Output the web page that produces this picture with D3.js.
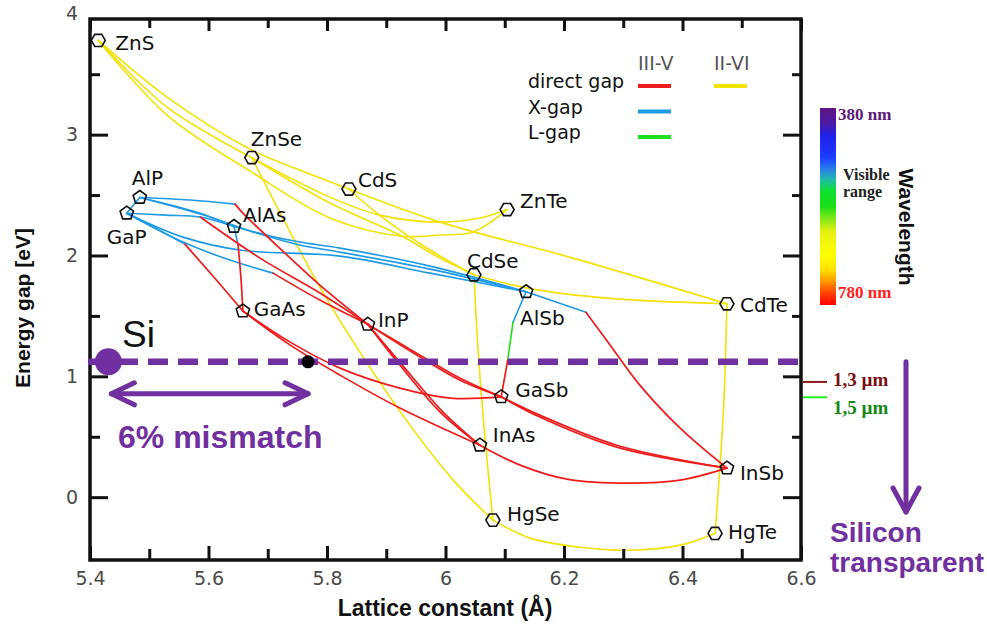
<!DOCTYPE html>
<html>
<head>
<meta charset="utf-8">
<script src="https://cdn.jsdelivr.net/npm/d3@7"></script>
<style>
  html, body { margin: 0; padding: 0; background: #fff; }
  svg { display: block; }
</style>
</head>
<body>
<svg id="chart" width="987" height="625"></svg>
<script>
// ---- Binary compounds: lattice constant (Å) and band gap (eV) ----
const compounds    = ["ZnS","ZnSe","CdS","ZnTe","CdSe","CdTe","HgSe","HgTe",
                      "AlP","GaP","AlAs","GaAs","InP","AlSb","GaSb","InAs","InSb"];
const latticeConst = [5.414,5.673,5.837,6.104,6.048,6.475,6.080,6.455,
                      5.484,5.462,5.643,5.658,5.869,6.136,6.094,6.058,6.475];
const bandGap      = [3.78,2.81,2.55,2.38,1.84,1.60,-0.19,-0.30,
                      2.48,2.35,2.24,1.54,1.43,1.70,0.83,0.43,0.24];
const family       = ["II-VI","II-VI","II-VI","II-VI","II-VI","II-VI","II-VI","II-VI",
                      "III-V","III-V","III-V","III-V","III-V","III-V","III-V","III-V","III-V"];

// ---- Ternary alloy curves: [lattice constant, gap] along each composition path ----
const alloySegments = [
  // II-VI alloys
  {gap:"II-VI",  pts:[[5.414,3.78],[5.530,3.311],[5.673,2.873],[5.754,2.707],[5.837,2.55]]},
  {gap:"II-VI",  pts:[[5.414,3.78],[5.530,3.228],[5.673,2.81]]},
  {gap:"II-VI",  pts:[[5.414,3.78],[5.530,3.162],[5.673,2.69],[5.805,2.31],[5.923,2.161],[5.991,2.169],[6.046,2.194],[6.104,2.38]]},
  {gap:"II-VI",  pts:[[5.673,2.81],[5.805,2.483],[5.889,2.334],[5.991,2.276],[6.058,2.31],[6.104,2.38]]},
  {gap:"II-VI",  pts:[[5.673,2.81],[5.805,2.434],[5.923,2.169],[5.991,1.978],[6.048,1.84]]},
  {gap:"II-VI",  pts:[[5.837,2.55],[5.884,2.351],[5.974,2.045],[6.048,1.84]]},
  {gap:"II-VI",  pts:[[5.837,2.55],[5.991,2.276],[6.215,1.978],[6.475,1.60]]},
  {gap:"II-VI",  pts:[[6.048,1.84],[6.138,1.73],[6.273,1.647],[6.475,1.60]]},
  {gap:"II-VI",  pts:[[5.673,2.81],[5.721,2.351],[5.788,1.738],[5.861,1.159],[5.940,0.596],[6.013,0.141],[6.080,-0.19]]},
  {gap:"II-VI",  pts:[[6.080,-0.19],[6.143,-0.339],[6.227,-0.414],[6.311,-0.439],[6.396,-0.397],[6.455,-0.30]]},
  {gap:"II-VI",  pts:[[6.048,1.84],[6.055,1.217],[6.067,0.472],[6.080,-0.19]]},
  {gap:"II-VI",  pts:[[6.475,1.60],[6.470,0.803],[6.463,0.24],[6.455,-0.30]]},
  // III-V alloys (X-gap, L-gap and direct-gap branches)
  {gap:"X",      pts:[[5.484,2.48],[5.462,2.35]]},
  {gap:"X",      pts:[[5.484,2.48],[5.586,2.35],[5.643,2.24]]},
  {gap:"X",      pts:[[5.484,2.48],[5.569,2.459],[5.645,2.425]]},
  {gap:"direct", pts:[[5.645,2.425],[5.658,2.351],[5.729,2.02],[5.788,1.755],[5.869,1.43]]},
  {gap:"X",      pts:[[5.462,2.35],[5.527,2.334],[5.586,2.318],[5.643,2.24]]},
  {gap:"direct", pts:[[5.586,2.318],[5.687,1.978],[5.788,1.689],[5.869,1.43]]},
  {gap:"X",      pts:[[5.462,2.35],[5.510,2.227],[5.560,2.094]]},
  {gap:"direct", pts:[[5.560,2.094],[5.606,1.838],[5.658,1.54]]},
  {gap:"X",      pts:[[5.643,2.24],[5.650,2.086]]},
  {gap:"direct", pts:[[5.650,2.086],[5.655,1.796],[5.658,1.54]]},
  {gap:"X",      pts:[[5.462,2.35],[5.557,2.111],[5.636,1.962],[5.709,1.854]]},
  {gap:"direct", pts:[[5.709,1.854],[5.788,1.631],[5.869,1.43]]},
  {gap:"X",      pts:[[5.643,2.24],[5.704,2.161],[5.754,2.111],[5.822,2.061],[5.974,1.912],[6.136,1.70]]},
  {gap:"X",      pts:[[5.484,2.48],[5.586,2.343],[5.687,2.177],[5.754,2.086],[5.822,2.028],[5.974,1.887],[6.136,1.70]]},
  {gap:"X",      pts:[[5.462,2.35],[5.557,2.152],[5.653,2.045],[5.822,1.995],[5.974,1.854],[6.136,1.70]]},
  {gap:"X",      pts:[[6.136,1.70],[6.114,1.449]]},
  {gap:"L",      pts:[[6.114,1.449],[6.105,1.134]]},
  {gap:"direct", pts:[[6.105,1.134],[6.094,0.83]]},
  {gap:"X",      pts:[[6.136,1.70],[6.237,1.531]]},
  {gap:"direct", pts:[[6.237,1.531],[6.278,1.258],[6.328,0.927],[6.396,0.571],[6.475,0.24]]},
  {gap:"direct", pts:[[5.658,1.54],[5.738,1.283],[5.822,1.068],[5.923,0.902],[6.008,0.82],[6.094,0.83]]},
  {gap:"direct", pts:[[5.658,1.54],[5.738,1.258],[5.822,1.01],[5.923,0.737],[5.991,0.579],[6.058,0.43]]},
  {gap:"direct", pts:[[5.869,1.43],[5.923,1.093],[5.991,0.704],[6.058,0.43]]},
  {gap:"direct", pts:[[5.869,1.43],[5.927,1.093],[5.996,0.704],[6.058,0.43]]},
  {gap:"direct", pts:[[5.869,1.43],[5.957,1.159],[6.024,0.969],[6.094,0.83]]},
  {gap:"direct", pts:[[5.869,1.43],[5.957,1.175],[6.024,0.986],[6.094,0.83]]},
  {gap:"direct", pts:[[6.094,0.83],[6.159,0.679],[6.289,0.43],[6.475,0.24]]},
  {gap:"direct", pts:[[6.094,0.83],[6.159,0.663],[6.289,0.414],[6.475,0.24]]},
  {gap:"direct", pts:[[6.058,0.43],[6.126,0.265],[6.205,0.149],[6.311,0.116],[6.396,0.141],[6.475,0.24]]}
];

// ---- Axis ticks ----
const xMajorTicks = [5.4,5.6,5.8,6,6.2,6.4,6.6];
const xMinorTicks = [5.5,5.7,5.9,6.1,6.3,6.5];
const yMajorTicks = [0,1,2,3,4];
const yMinorTicks = [0.5,1.5,2.5,3.5];

// ---- Silicon reference ----
const siLattice = 5.431;
const siGap = 1.12;
const matchedLattice = 5.768;

// ---- Telecom wavelengths (µm) ----
const telecomWavelengths = [1.3, 1.5];
const telecomLabels = ["1,3 µm", "1,5 µm"];

// ---- Visible spectrum colour bar (top = 380 nm, bottom = 780 nm) ----
const spectrumOffsets = [0,0.08,0.14,0.25,0.31,0.36,0.42,0.50,0.56,0.63,0.75,0.82,0.88,0.94,1];
const spectrumColors  = ["#5e1483","#4a1aa6","#2020e8","#1a3cff","#2a7ee8","#20b8b0","#10e030",
                         "#18e018","#80e818","#e8f010","#ffff00","#ffe000","#ff9a00","#ff4000","#ff0000"];

// ---- Legend ----
const legendRows    = ["direct gap","X-gap","L-gap"];
const legendGroups  = ["III-V","II-VI"];

// ================= drawing =================
const svg = d3.select("#chart");
svg.append("rect").attr("width",987).attr("height",625).attr("fill","#fff");

const x = d3.scaleLinear().domain([5.4, 6.6]).range([90, 801]);
const y = d3.scaleLinear().domain([-0.52, 3.957]).range([560, 19]);

const gapColor = {"II-VI":"#f2e205", "direct":"#ee1c1c", "X":"#1e9ae6", "L":"#1ee01e"};
const PURPLE = "#7030a0";
const LABEL_FONT = "'DejaVu Sans', sans-serif";
const BOLD_FONT = "'Liberation Sans', Arial, sans-serif";

// Alloy curves
const curve = d3.line()
  .x(d => x(d[0])).y(d => y(d[1]))
  .curve(d3.curveCatmullRom.alpha(0.5));

const order = ["II-VI","X","L","direct"];
svg.append("g").selectAll("path")
  .data(alloySegments.slice().sort((a,b) => order.indexOf(a.gap) - order.indexOf(b.gap)))
  .join("path")
  .attr("d", d => curve(d.pts))
  .attr("fill","none")
  .attr("stroke", d => gapColor[d.gap])
  .attr("stroke-width", d => d.gap === "direct" ? 1.7 : 1.6)
  .attr("stroke-linejoin","round")
  .attr("stroke-linecap","round");

// Compound markers: hexagons for II-VI, pentagons for III-V
function polygon(cx, cy, r, n, startDeg) {
  const p = [];
  for (let i = 0; i < n; i++) {
    const a = (startDeg + i * 360 / n) * Math.PI / 180;
    p.push([cx + r * Math.cos(a), cy + r * Math.sin(a)]);
  }
  return "M" + p.map(q => q[0].toFixed(2) + "," + q[1].toFixed(2)).join("L") + "Z";
}
const markerData = compounds.map((c, i) => ({name:c, a:latticeConst[i], e:bandGap[i], fam:family[i]}));
svg.append("g").selectAll("path")
  .data(markerData).join("path")
  .attr("d", d => d.fam === "II-VI"
      ? polygon(x(d.a), y(d.e), 7, 6, 0)
      : polygon(x(d.a), y(d.e), 7, 5, -90))
  .attr("fill","none").attr("stroke","#111").attr("stroke-width",1.6);

// Compound labels (offsets from marker, px)
const labelOffset = {
  ZnS:[17,10], ZnSe:[-1,-12], CdS:[9,-2], ZnTe:[13,-2], CdSe:[-7,-7], CdTe:[13,8],
  HgSe:[14,1], HgTe:[13,6], AlP:[-8,-12], GaP:[-20,31], AlAs:[9,-4], GaAs:[11,5],
  InP:[10,3], AlSb:[-6,33], GaSb:[14,0], InAs:[13,-3], InSb:[13,12]
};
svg.append("g").selectAll("text")
  .data(markerData).join("text")
  .attr("x", d => x(d.a) + labelOffset[d.name][0])
  .attr("y", d => y(d.e) + labelOffset[d.name][1])
  .attr("font-family", LABEL_FONT).attr("font-size", 20).attr("fill","#111")
  .text(d => d.name);

// ---- Axes (ticks pointing inward, gnuplot style) ----
function styleAxis(g, withText) {
  g.select(".domain").remove();
  g.selectAll(".tick line").attr("stroke","#111").attr("stroke-width",3);
  if (withText) g.selectAll(".tick text")
      .attr("font-family", LABEL_FONT).attr("font-size", 19).attr("fill","#4a4a4a");
  else g.selectAll(".tick text").remove();
}
const fmt = d => String(d);

svg.append("g").attr("transform","translate(0,560)")
  .call(d3.axisBottom(x).tickValues(xMajorTicks).tickSizeInner(-14).tickSizeOuter(0).tickPadding(12).tickFormat(fmt))
  .call(g => styleAxis(g, true));
svg.append("g").attr("transform","translate(0,560)")
  .call(d3.axisBottom(x).tickValues(xMinorTicks).tickSizeInner(-11).tickSizeOuter(0))
  .call(g => styleAxis(g, false));
svg.append("g").attr("transform","translate(0,19)")
  .call(d3.axisTop(x).tickValues(xMajorTicks).tickSizeInner(-12).tickSizeOuter(0))
  .call(g => styleAxis(g, false));
svg.append("g").attr("transform","translate(0,19)")
  .call(d3.axisTop(x).tickValues(xMinorTicks).tickSizeInner(-9).tickSizeOuter(0))
  .call(g => styleAxis(g, false));

svg.append("g").attr("transform","translate(90,0)")
  .call(d3.axisLeft(y).tickValues(yMajorTicks).tickSizeInner(-18).tickSizeOuter(0).tickPadding(12).tickFormat(fmt))
  .call(g => styleAxis(g, true))
  .call(g => g.selectAll(".tick").filter(d => d === 4).select("line").remove());
svg.append("g").attr("transform","translate(90,0)")
  .call(d3.axisLeft(y).tickValues(yMinorTicks).tickSizeInner(-10).tickSizeOuter(0))
  .call(g => styleAxis(g, false));
svg.append("g").attr("transform","translate(801,0)")
  .call(d3.axisRight(y).tickValues(yMajorTicks.filter(v => v < 4)).tickSizeInner(-18).tickSizeOuter(0))
  .call(g => styleAxis(g, false));
svg.append("g").attr("transform","translate(801,0)")
  .call(d3.axisRight(y).tickValues(yMinorTicks).tickSizeInner(-9).tickSizeOuter(0))
  .call(g => styleAxis(g, false));

// Plot frame
svg.append("rect")
  .attr("x", x(5.4)).attr("y", y(3.957))
  .attr("width", x(6.6) - x(5.4)).attr("height", y(-0.52) - y(3.957))
  .attr("fill","none").attr("stroke","#111").attr("stroke-width",3.5);

// Axis titles
svg.append("text")
  .attr("x", 445).attr("y", 616).attr("text-anchor","middle")
  .attr("font-family", BOLD_FONT).attr("font-weight","bold").attr("font-size",23).attr("fill","#111")
  .text("Lattice constant (Å)");
svg.append("text")
  .attr("transform","translate(30,308) rotate(-90)").attr("text-anchor","middle")
  .attr("font-family", BOLD_FONT).attr("font-weight","bold").attr("font-size",21).attr("fill","#111")
  .text("Energy gap [eV]");

// ---- Legend ----
const legend = svg.append("g");
legendGroups.forEach((gname, i) => {
  legend.append("text").attr("x", 638 + i * 76).attr("y", 70)
    .attr("font-family", LABEL_FONT).attr("font-size", 19).attr("fill","#555").text(gname);
});
const legendKeys = ["direct","X","L"];
legendRows.forEach((label, i) => {
  const yy = 86 + i * 25.5;
  legend.append("text").attr("x", 528).attr("y", yy + 2)
    .attr("font-family", LABEL_FONT).attr("font-size", 19).attr("fill","#111").text(label);
  legend.append("line").attr("x1", 638).attr("x2", 671).attr("y1", yy).attr("y2", yy)
    .attr("stroke", gapColor[legendKeys[i]]).attr("stroke-width", 4);
});
legend.append("line").attr("x1", 714).attr("x2", 747).attr("y1", 86).attr("y2", 86)
  .attr("stroke", gapColor["II-VI"]).attr("stroke-width", 4);

// ---- Visible spectrum colour bar ----
const defs = svg.append("defs");
const grad = defs.append("linearGradient").attr("id","spectrum")
  .attr("x1",0).attr("y1",0).attr("x2",0).attr("y2",1);
spectrumOffsets.forEach((o, i) => grad.append("stop").attr("offset", o).attr("stop-color", spectrumColors[i]));
svg.append("rect").attr("x", 820).attr("y", 108).attr("width", 16).attr("height", 197)
  .attr("fill","url(#spectrum)");
const serif = "'Liberation Serif', 'Times New Roman', serif";
svg.append("text").attr("x", 838).attr("y", 120).attr("font-family", serif).attr("font-weight","bold")
  .attr("font-size", 17).attr("fill","#5a1a7a").text("380 nm");
svg.append("text").attr("x", 838).attr("y", 298).attr("font-family", serif).attr("font-weight","bold")
  .attr("font-size", 17).attr("fill","#ff2020").text("780 nm");
svg.append("text").attr("x", 843).attr("y", 180).attr("font-family", serif).attr("font-weight","bold")
  .attr("font-size", 16).attr("fill","#222").text("Visible");
svg.append("text").attr("x", 843).attr("y", 197).attr("font-family", serif).attr("font-weight","bold")
  .attr("font-size", 16).attr("fill","#222").text("range");
svg.append("text").attr("transform","translate(899,227) rotate(90)").attr("text-anchor","middle")
  .attr("font-family", BOLD_FONT).attr("font-weight","bold").attr("font-size", 21).attr("fill","#111")
  .text("Wavelength");

// ---- Telecom wavelength marks on the right axis (E = hc/λ) ----
const telecomLine = ["#8b1a1a", "#22ee22"];
const telecomText = ["#7a1010", "#138a13"];
const telecomDy = [4, 17];
telecomWavelengths.forEach((lam, i) => {
  const yy = y(1.2398 / lam);
  svg.append("line").attr("x1", 803).attr("x2", 827).attr("y1", yy).attr("y2", yy)
    .attr("stroke", telecomLine[i]).attr("stroke-width", 2);
  svg.append("text").attr("x", 833).attr("y", yy + telecomDy[i])
    .attr("font-family", serif).attr("font-weight","bold").attr("font-size", 19)
    .attr("fill", telecomText[i]).text(telecomLabels[i]);
});

// ---- Silicon gap line and lattice mismatch ----
const ySi = y(siGap);
svg.append("line").attr("x1", 88).attr("x2", 808).attr("y1", ySi).attr("y2", ySi)
  .attr("stroke", PURPLE).attr("stroke-width", 6.5).attr("stroke-dasharray","20,10");
svg.append("circle").attr("cx", x(siLattice)).attr("cy", ySi).attr("r", 13.5).attr("fill", PURPLE);
svg.append("circle").attr("cx", x(matchedLattice)).attr("cy", ySi).attr("r", 6.5).attr("fill", "#000");
svg.append("text").attr("x", 122).attr("y", 347)
  .attr("font-family", BOLD_FONT).attr("font-size", 37).attr("fill","#111").text("Si");

// double-headed mismatch arrow
const ay = ySi + 32;
const ax1 = x(siLattice) + 3, ax2 = x(matchedLattice);
const arrow = svg.append("g").attr("stroke", PURPLE).attr("stroke-width", 5)
  .attr("stroke-linecap","round").attr("stroke-linejoin","round").attr("fill","none");
arrow.append("line").attr("x1", ax1).attr("x2", ax2).attr("y1", ay).attr("y2", ay);
arrow.append("path").attr("d", `M${ax1 + 23},${ay - 11}L${ax1},${ay}L${ax1 + 23},${ay + 11}`);
arrow.append("path").attr("d", `M${ax2 - 23},${ay - 11}L${ax2},${ay}L${ax2 - 23},${ay + 11}`);
svg.append("text").attr("x", 118).attr("y", 448)
  .attr("font-family", BOLD_FONT).attr("font-weight","bold").attr("font-size", 32).attr("fill", PURPLE)
  .text("6% mismatch");

// downward arrow: below the Si gap, silicon is transparent
const vx = 906;
const varrow = svg.append("g").attr("stroke", PURPLE).attr("stroke-width", 5)
  .attr("stroke-linecap","round").attr("stroke-linejoin","round").attr("fill","none");
varrow.append("line").attr("x1", vx).attr("x2", vx).attr("y1", ySi).attr("y2", 512);
varrow.append("path").attr("d", `M${vx - 13},${488}L${vx},${512}L${vx + 13},${488}`);
svg.append("text").attr("x", 830).attr("y", 542)
  .attr("font-family", BOLD_FONT).attr("font-weight","bold").attr("font-size", 28).attr("fill", PURPLE)
  .text("Silicon");
svg.append("text").attr("x", 830).attr("y", 572)
  .attr("font-family", BOLD_FONT).attr("font-weight","bold").attr("font-size", 28).attr("fill", PURPLE)
  .text("transparent");
</script>
</body>
</html>
